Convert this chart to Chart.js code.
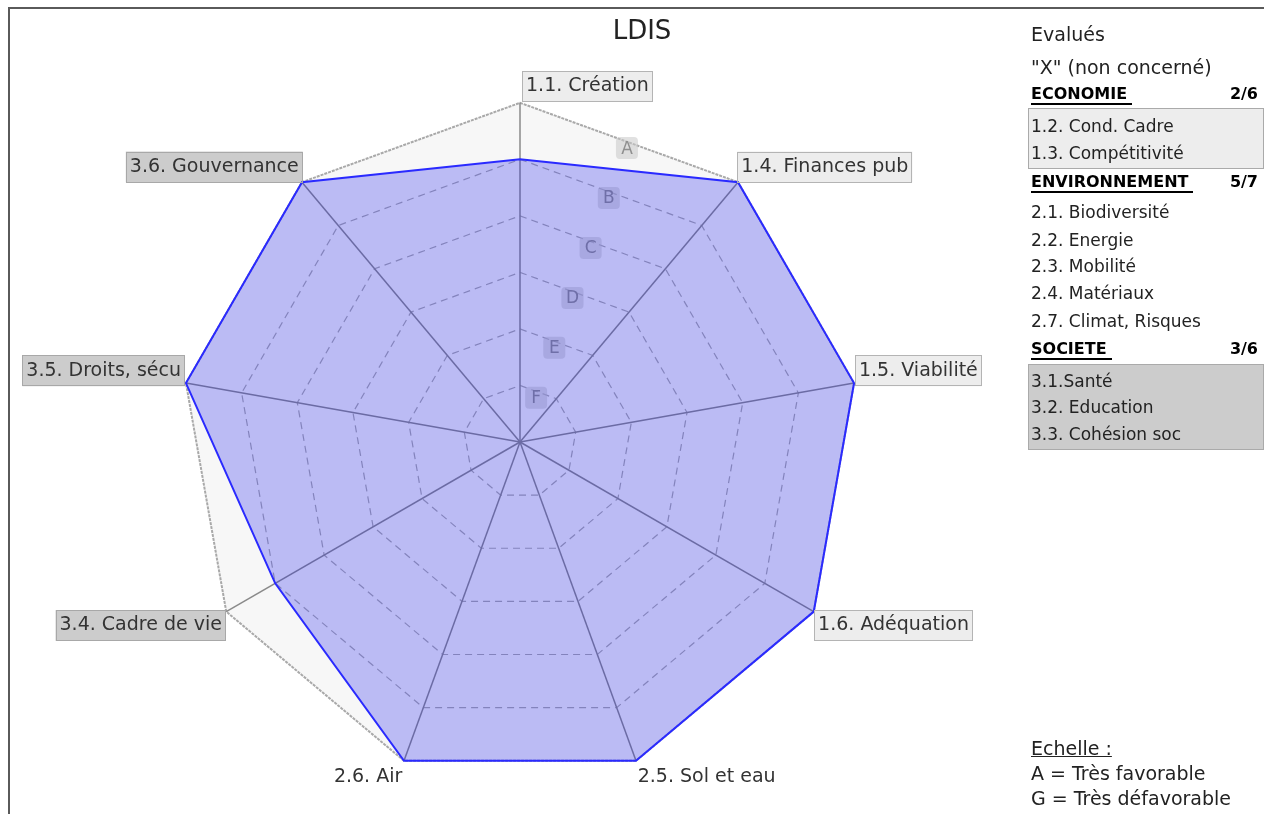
<!DOCTYPE html>
<html>
<head>
<meta charset="utf-8">
<script src="https://cdn.jsdelivr.net/npm/chart.js@4.4.1/dist/chart.umd.min.js"></script>
<style>
body { margin:0; background:#fff; width:1264px; height:814px; overflow:hidden; position:relative; font-family:"DejaVu Sans", sans-serif; color:#222; }
#frame { position:absolute; left:8px; top:7px; width:1400px; height:1000px; border:2px solid #5a5a5a; }
#wrap { position:absolute; left:0; top:0; width:1040px; height:814px; }
#title { position:absolute; left:542px; top:15px; width:200px; text-align:center; font-size:26px; color:#222; }
.t { position:absolute; left:1031px; white-space:nowrap; line-height:22px; }
.big { font-size:19px; }
.it { font-size:17px; }
.hd { font-size:16px; font-weight:bold; color:#000; }
.hd span { border-bottom:2px solid #000; padding-right:5px; }
.cnt { position:absolute; right:6px; font-size:16px; font-weight:bold; color:#000; line-height:22px; }
.box { position:absolute; left:1028px; width:234px; border:1px solid #aaa; }
</style>
</head>
<body>
<div id="frame"></div>
<div id="wrap"><canvas id="radar"></canvas></div>
<div id="title">LDIS</div>

<div class="t big" style="top:23px">Evalués</div>
<div class="t big" style="top:56px">"X" (non concerné)</div>

<div class="t hd" style="top:83px"><span>ECONOMIE</span></div>
<div class="cnt" style="top:83px">2/6</div>
<div class="box" style="top:108px;height:59px;background:#ededed"></div>
<div class="t it" style="top:115px">1.2. Cond. Cadre</div>
<div class="t it" style="top:142px">1.3. Compétitivité</div>

<div class="t hd" style="top:171px"><span>ENVIRONNEMENT</span></div>
<div class="cnt" style="top:171px">5/7</div>
<div class="t it" style="top:201px">2.1. Biodiversité</div>
<div class="t it" style="top:229px">2.2. Energie</div>
<div class="t it" style="top:255px">2.3. Mobilité</div>
<div class="t it" style="top:282px">2.4. Matériaux</div>
<div class="t it" style="top:310px">2.7. Climat, Risques</div>

<div class="t hd" style="top:338px"><span>SOCIETE</span></div>
<div class="cnt" style="top:338px">3/6</div>
<div class="box" style="top:364px;height:84px;background:#cccccc"></div>
<div class="t it" style="top:370px">3.1.Santé</div>
<div class="t it" style="top:396px">3.2. Education</div>
<div class="t it" style="top:423px">3.3. Cohésion soc</div>

<div class="t big" style="top:737px;text-decoration:underline">Echelle :</div>
<div class="t big" style="top:762px">A = Très favorable</div>
<div class="t big" style="top:787px">G = Très défavorable</div>

<script>
const categories = ["1.1. Création", "1.4. Finances pub", "1.5. Viabilité", "1.6. Adéquation",
  "2.5. Sol et eau", "2.6. Air", "3.4. Cadre de vie", "3.5. Droits, sécu", "3.6. Gouvernance"];
const groups = ["ECO", "ECO", "ECO", "ECO", "ENV", "ENV", "SOC", "SOC", "SOC"];
const values = [5, 6, 6, 6, 6, 6, 5, 6, 6];
const tickLabels = ["G", "F", "E", "D", "C", "B", "A"];

const groupFill = { ECO: "#ededed", ENV: null, SOC: "#cccccc" };
const groupLine = { ECO: "#b4b4b4", ENV: null, SOC: "#a8a8a8" };

// top label starts at the spoke instead of being centred on it
const labelShift = {
  id: "labelShift",
  beforeDraw(chart) {
    const s = chart.scales.r;
    const it = s._pointLabelItems && s._pointLabelItems[0];
    if (!it || it.textAlign !== "center") return;
    const w = it.right - it.left;
    it.textAlign = "left";
    it.left = s.xCenter + 6;
    it.right = it.left + w;
    it.x = it.left;
  }
};

// borders round the point labels (library only fills them)
const labelBorders = {
  id: "labelBorders",
  afterDraw(chart) {
    const s = chart.scales.r;
    const ctx = chart.ctx;
    const pad = 4;
    ctx.save();
    ctx.lineWidth = 1;
    (s._pointLabelItems || []).forEach((it, i) => {
      const c = groupLine[groups[i]];
      if (!c) return;
      ctx.strokeStyle = c;
      ctx.strokeRect(Math.round(it.left - pad) + 0.5, Math.round(it.top - pad) + 0.5,
        Math.round(it.right - it.left + 2 * pad) - 1, Math.round(it.bottom - it.top + 2 * pad) - 1);
    });
    ctx.restore();
  }
};

// letter ticks, placed half way between the first two spokes
const letterTicks = {
  id: "letterTicks",
  beforeDatasetsDraw(chart) {
    const s = chart.scales.r;
    const ctx = chart.ctx;
    ctx.save();
    ctx.font = '17px "DejaVu Sans"';
    ctx.textAlign = "center";
    ctx.textBaseline = "middle";
    s.ticks.forEach(t => {
      if (t.value === 0) return;
      const d = s.getDistanceFromCenterForValue(t.value);
      const a = s.getPointPosition(0, d);
      const b = s.getPointPosition(1, d);
      let x = (a.x + b.x) / 2, y = (a.y + b.y) / 2;
      const dx = x - s.xCenter, dy = y - s.yCenter, len = Math.hypot(dx, dy);
      x -= dx / len * 6;
      y -= dy / len * 6;
      const w = Math.max(ctx.measureText(t.label).width + 9, 22);
      ctx.fillStyle = "rgba(200,200,200,0.55)";
      ctx.beginPath();
      if (ctx.roundRect) ctx.roundRect(x - w / 2, y - 11, w, 22, 4);
      else ctx.rect(x - w / 2, y - 11, w, 22);
      ctx.fill();
      ctx.fillStyle = "#8f8f8f";
      ctx.fillText(t.label, x, y + 1);
    });
    ctx.restore();
  }
};

const dashFor = c => c.index === 6 ? [3, 1] : [7, 5];

new Chart(document.getElementById("radar"), {
  type: "radar",
  data: {
    labels: categories,
    datasets: [{
      data: values,
      backgroundColor: "rgba(25,25,235,0.27)",
      borderColor: "#2a2aff",
      borderWidth: 2,
      pointRadius: 0,
      fill: true
    }]
  },
  options: {
    responsive: true,
    maintainAspectRatio: false,
    animation: false,
    layout: { padding: { top: 64, bottom: 16 } },
    plugins: { legend: { display: false }, tooltip: { enabled: false } },
    scales: {
      r: {
        min: 0,
        max: 6,
        backgroundColor: "#f7f7f7",
        ticks: { stepSize: 1, display: false, callback: v => tickLabels[v] },
        grid: {
          color: c => c.index === 6 ? "#a9a9a9" : "rgba(120,120,120,0.6)",
          lineWidth: c => c.index === 6 ? 2 : 1.2,
          borderDash: dashFor
        },
        border: { dash: dashFor },
        angleLines: { color: "#8a8a8a", lineWidth: 1.5 },
        pointLabels: {
          font: { family: "DejaVu Sans", size: 19 },
          color: "#333",
          padding: 5,
          backdropPadding: 4,
          backdropColor: c => groupFill[groups[c.index]]
        }
      }
    }
  },
  plugins: [labelShift, labelBorders, letterTicks]
});
</script>
</body>
</html>
